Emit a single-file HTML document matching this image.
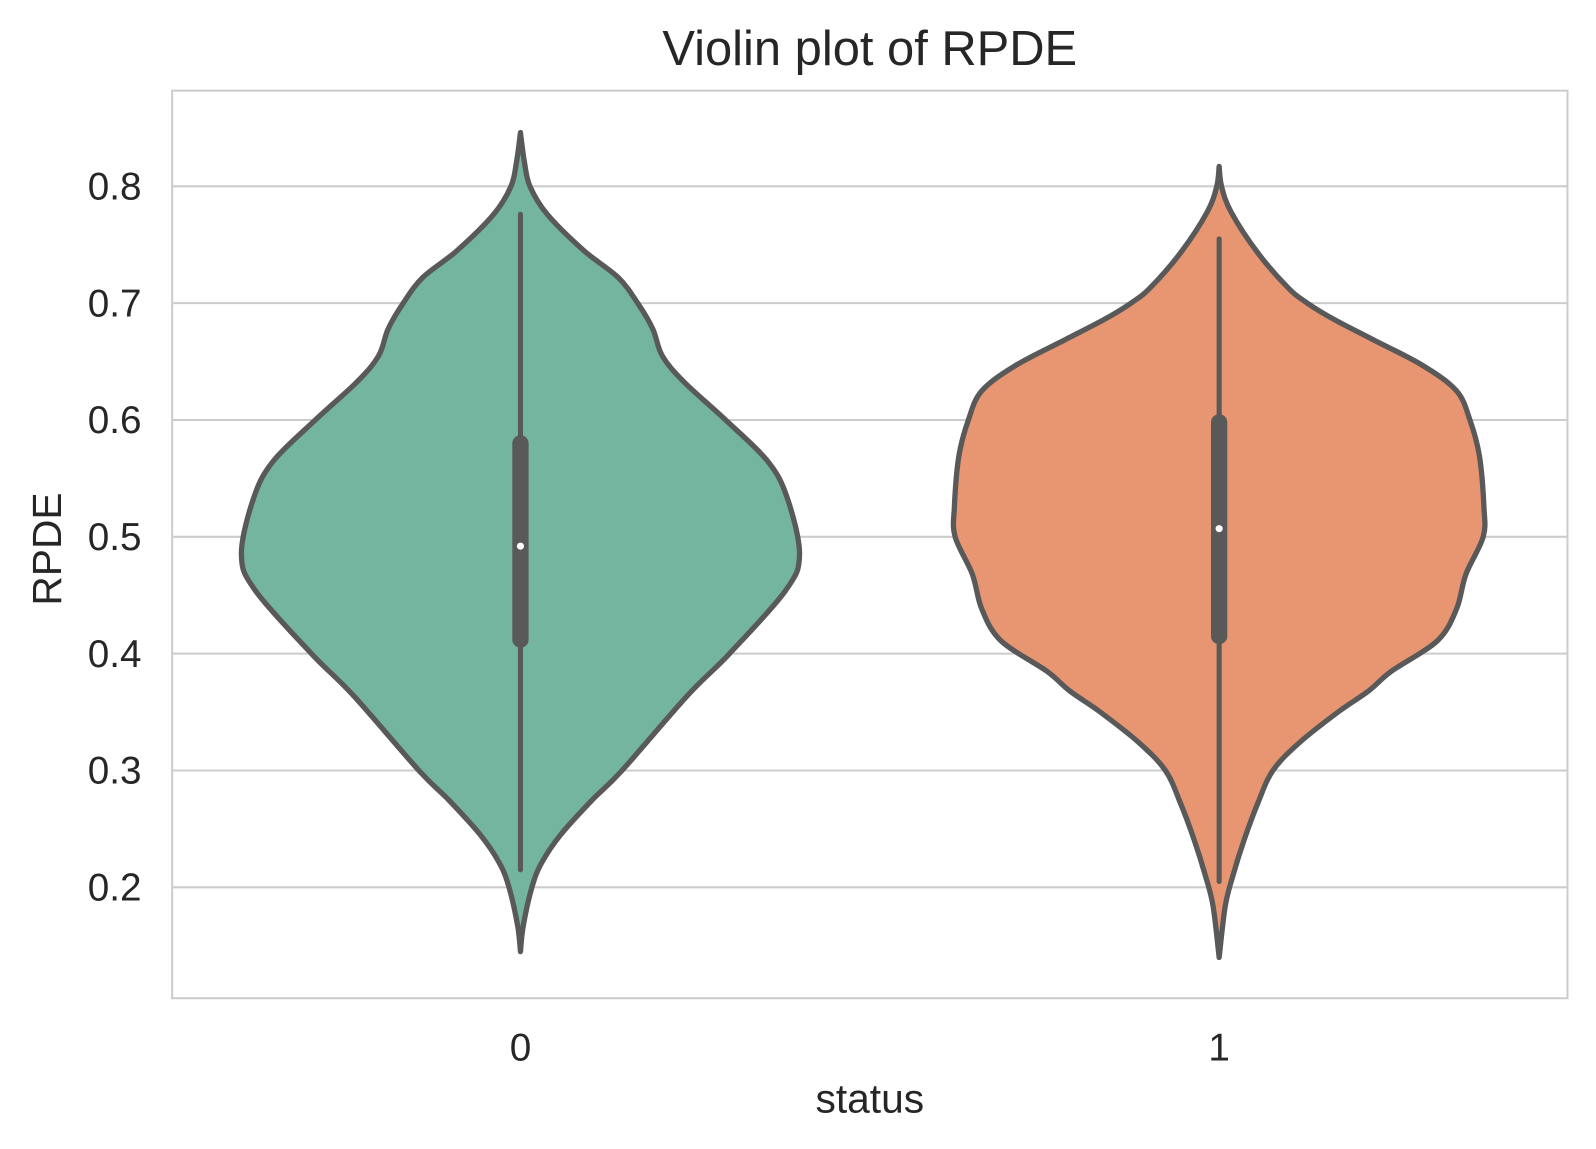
<!DOCTYPE html>
<html><head><meta charset="utf-8"><style>
body{margin:0;background:#fff}
svg{display:block;font-family:"Liberation Sans",Arial,sans-serif}
</style></head><body>
<svg id="chart" width="1596" height="1149" viewBox="0 0 1567 1128" preserveAspectRatio="none" xmlns="http://www.w3.org/2000/svg">
<rect width="1567" height="1128" fill="#fff"/>
<g id="grid"></g>
<rect x="169" y="89" width="1370" height="891" fill="none" stroke="#cccccc" stroke-width="2"/>
<g id="violins"></g>
<g id="ticks"></g>
<text x="854" y="64" text-anchor="middle" font-size="48" fill="#262626">Violin plot of RPDE</text>
<text x="854" y="1092" text-anchor="middle" font-size="40" fill="#262626">status</text>
<text transform="translate(60,539) rotate(-90)" text-anchor="middle" font-size="40" fill="#262626">RPDE</text>
</svg>
<script>
const categories = ["0","1"];
const yTicks = [0.2,0.3,0.4,0.5,0.6,0.7,0.8];
const colors = ["#74b5a0","#e89672"];
const kdeValues0 = [0.846,0.821,0.8,0.776,0.745,0.722,0.7,0.678,0.655,0.633,0.6,0.565,0.534,0.485,0.454,0.4,0.364,0.3,0.274,0.245,0.221,0.2,0.167,0.145];
const kdeWidths0 = [0,0.014,0.034,0.096,0.227,0.35,0.42,0.474,0.508,0.584,0.735,0.885,0.955,1.0,0.95,0.749,0.598,0.364,0.254,0.144,0.076,0.041,0.01,0];
const kdeValues1 = [0.817,0.8,0.778,0.743,0.713,0.7,0.686,0.669,0.647,0.625,0.6,0.569,0.525,0.5,0.468,0.438,0.411,0.385,0.368,0.35,0.324,0.3,0.272,0.241,0.21,0.184,0.14];
const kdeWidths1 = [0,0.009,0.045,0.146,0.261,0.333,0.434,0.579,0.766,0.896,0.947,0.983,1.0,0.997,0.932,0.896,0.824,0.651,0.564,0.449,0.304,0.203,0.146,0.095,0.052,0.023,0];
const whiskerLow = [0.215,0.205];
const whiskerHigh = [0.776,0.755];
const q1 = [0.412,0.415];
const q3 = [0.580,0.598];
const medians = [0.492,0.507];

const maxHalf = [274,260];
const NS="http://www.w3.org/2000/svg";
function yS(v){return 527-(v-0.5)*1147;}
function xS(i){return 511+i*686;}
function mk(tag,attrs,parent){const e=document.createElementNS(NS,tag);for(const k in attrs)e.setAttribute(k,attrs[k]);parent.appendChild(e);return e;}
const grid=document.getElementById('grid'),ticks=document.getElementById('ticks'),vg=document.getElementById('violins');
yTicks.forEach(t=>{
  const l=mk('line',{x1:169,x2:1539,y1:yS(t),y2:yS(t),stroke:'#cccccc','stroke-width':2},grid);
  
  
  const tx=mk('text',{x:139,y:yS(t)+13,'text-anchor':'end','font-size':38,fill:'#262626'},ticks);
  tx.textContent=t.toFixed(1);
  
  
});
categories.forEach((c,i)=>{
  const tx=mk('text',{x:xS(i),y:1041,'text-anchor':'middle','font-size':38,fill:'#262626'},ticks);
  tx.textContent=c;
  
  
});
function smooth(pts){
  let d=`M${pts[0][0]},${pts[0][1]}`;
  for(let i=0;i<pts.length-1;i++){
    const p0=pts[Math.max(0,i-1)],p1=pts[i],p2=pts[i+1],p3=pts[Math.min(pts.length-1,i+2)];
    const c1=[p1[0]+(p2[0]-p0[0])/6,p1[1]+(p2[1]-p0[1])/6];
    const c2=[p2[0]-(p3[0]-p1[0])/6,p2[1]-(p3[1]-p1[1])/6];
    d+=` C${c1[0]},${c1[1]} ${c2[0]},${c2[1]} ${p2[0]},${p2[1]}`;
  }
  return d;
}
[[kdeValues0,kdeWidths0],[kdeValues1,kdeWidths1]].forEach(([vals,ws],i)=>{
  const cx=xS(i);
  const right=vals.map((v,k)=>[cx+ws[k]*maxHalf[i],yS(v)]);
  const left=vals.map((v,k)=>[cx-ws[k]*maxHalf[i],yS(v)]).reverse();
  const d=smooth(right)+' '+smooth(left).replace(/^M/,'L')+' Z';
  const p=mk('path',{d:d,fill:colors[i],stroke:'#595959','stroke-width':5.2,'stroke-linejoin':'round'},vg);
  
  
  const w=mk('line',{x1:cx,x2:cx,y1:yS(whiskerLow[i]),y2:yS(whiskerHigh[i]),stroke:'#595959','stroke-width':5,'stroke-linecap':'round'},vg);
  
  
  const b=mk('line',{x1:cx,x2:cx,y1:yS(q1[i]),y2:yS(q3[i]),stroke:'#595959','stroke-width':16,'stroke-linecap':'round'},vg);
  
  
  const m=mk('circle',{cx:cx,cy:yS(medians[i]),r:3.5,fill:'#ffffff'},vg);
  
  
});
</script>
</body></html>
